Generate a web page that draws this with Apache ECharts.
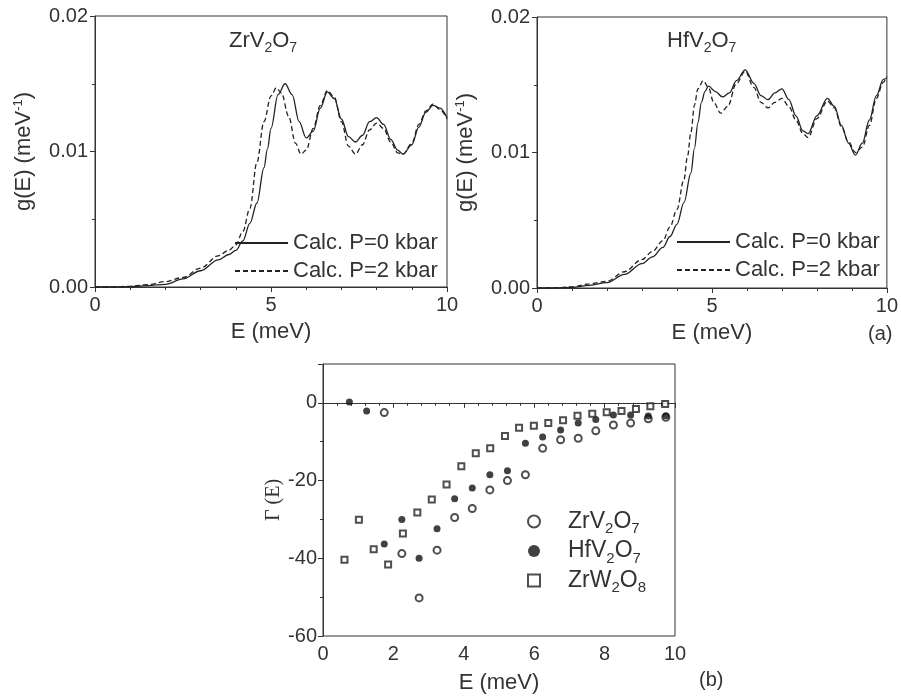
<!DOCTYPE html>
<html>
<head>
<meta charset="utf-8">
<script src="https://cdn.jsdelivr.net/npm/echarts@6/dist/echarts.min.js"></script>
<style>
  html, body { margin: 0; padding: 0; background: #fff; }
  #main { width: 901px; height: 698px; }
</style>
</head>
<body>
<div id="main"></div>
<script>
// ---- data ----
// (a) left: ZrV2O7 phonon DOS
const zrE0 = [0, 0.5, 1.0, 1.5, 2.0, 2.5, 3.0, 3.5, 3.8, 4.0, 4.2, 4.4, 4.6, 4.8, 4.9, 5.0, 5.2, 5.4, 5.6, 5.8, 6.0, 6.2, 6.4, 6.6, 6.8, 7.0, 7.2, 7.4, 7.6, 7.8, 8.0, 8.2, 8.4, 8.6, 8.75, 9.0, 9.2, 9.4, 9.6, 9.8, 10];
const zrG0 = [0, 0, 0.00003, 0.0001, 0.0002, 0.0006, 0.0012, 0.002, 0.0024, 0.0027, 0.0034, 0.0047, 0.0062, 0.0088, 0.0102, 0.0117, 0.0142, 0.015, 0.0142, 0.0122, 0.011, 0.0115, 0.0132, 0.0144, 0.0139, 0.0124, 0.0111, 0.0107, 0.0112, 0.0122, 0.0125, 0.012, 0.0109, 0.0101, 0.0098, 0.0105, 0.0118, 0.0129, 0.0134, 0.0132, 0.0125];
const zrE2 = [0, 0.5, 1.0, 1.5, 2.0, 2.5, 3.0, 3.5, 3.8, 4.0, 4.2, 4.4, 4.6, 4.8, 5.0, 5.15, 5.3, 5.5, 5.7, 5.85, 6.0, 6.2, 6.4, 6.6, 6.8, 7.0, 7.2, 7.4, 7.6, 7.8, 8.0, 8.2, 8.4, 8.6, 8.75, 9.0, 9.2, 9.4, 9.6, 9.8, 10];
const zrG2 = [0, 0, 0.00005, 0.00018, 0.0004, 0.0007, 0.0014, 0.0023, 0.0027, 0.0031, 0.0041, 0.0058, 0.0092, 0.0122, 0.0141, 0.0147, 0.0143, 0.0126, 0.0106, 0.0098, 0.0101, 0.0117, 0.0134, 0.0145, 0.014, 0.0122, 0.0104, 0.0098, 0.0105, 0.0116, 0.0121, 0.0117, 0.0107, 0.0099, 0.0098, 0.0106, 0.012, 0.013, 0.0135, 0.0131, 0.0124];

// (a) right: HfV2O7 phonon DOS
const hfE0 = [0, 0.5, 1.0, 1.5, 2.0, 2.5, 3.0, 3.3, 3.6, 3.8, 4.0, 4.2, 4.4, 4.5, 4.6, 4.7, 4.8, 4.9, 5.1, 5.3, 5.5, 5.7, 5.95, 6.2, 6.4, 6.6, 6.8, 7.0, 7.2, 7.4, 7.6, 7.75, 8.0, 8.3, 8.5, 8.7, 8.9, 9.1, 9.3, 9.5, 9.7, 9.9, 10];
const hfG0 = [0, 0, 0.00005, 0.0002, 0.0004, 0.001, 0.0018, 0.0023, 0.003, 0.0038, 0.0047, 0.0063, 0.0085, 0.0103, 0.0122, 0.0137, 0.0145, 0.0149, 0.0145, 0.0141, 0.0144, 0.0153, 0.0161, 0.0151, 0.0142, 0.0139, 0.0144, 0.0147, 0.0139, 0.0127, 0.0116, 0.0114, 0.0127, 0.014, 0.0134, 0.012, 0.0107, 0.0098, 0.0107, 0.0124, 0.0142, 0.0154, 0.0155];
const hfE2 = [0, 0.5, 1.0, 1.5, 2.0, 2.5, 3.0, 3.3, 3.6, 3.8, 4.0, 4.2, 4.3, 4.4, 4.5, 4.6, 4.75, 4.9, 5.05, 5.25, 5.45, 5.7, 5.95, 6.2, 6.4, 6.6, 6.8, 7.0, 7.2, 7.4, 7.6, 7.75, 8.0, 8.3, 8.5, 8.7, 8.9, 9.1, 9.3, 9.5, 9.7, 9.9, 10];
const hfG2 = [0, 0, 0.00008, 0.0003, 0.0005, 0.0012, 0.0021, 0.0027, 0.0035, 0.0045, 0.0058, 0.008, 0.0097, 0.0115, 0.0135, 0.0147, 0.0153, 0.0148, 0.0137, 0.0129, 0.0134, 0.0151, 0.016, 0.0148, 0.0137, 0.0133, 0.0137, 0.014, 0.0134, 0.0124, 0.0114, 0.0111, 0.0125, 0.0138, 0.0133, 0.0119, 0.0108, 0.01, 0.0104, 0.012, 0.014, 0.0152, 0.0156];

// (b) Gamma(E)
const gZrVE = [1.74, 2.24, 2.73, 3.24, 3.74, 4.24, 4.74, 5.24, 5.75, 6.24, 6.75, 7.25, 7.75, 8.25, 8.74, 9.24, 9.74];
const gZrVG = [-2.5, -38.8, -50.2, -37.9, -29.5, -27.2, -22.4, -20, -18.5, -11.7, -9.5, -9.1, -7.2, -5.7, -5.2, -4.1, -3.7];
const gHfVE = [0.75, 1.24, 1.74, 2.24, 2.73, 3.24, 3.74, 4.24, 4.74, 5.24, 5.75, 6.24, 6.75, 7.25, 7.75, 8.25, 8.74, 9.24, 9.74];
const gHfVG = [0.2, -2.1, -36.3, -30, -40, -32.4, -24.7, -21.9, -18.5, -17.5, -10.4, -8.8, -7.0, -5.2, -4.3, -3.1, -3.1, -3.4, -3.3];
const gZrWE = [0.61, 1.02, 1.44, 1.85, 2.27, 2.68, 3.09, 3.51, 3.93, 4.34, 4.75, 5.17, 5.57, 5.99, 6.40, 6.82, 7.23, 7.65, 8.06, 8.48, 8.89, 9.30, 9.72];
const gZrWG = [-40.4, -30.1, -37.7, -41.6, -33.6, -28.2, -24.9, -21.0, -16.3, -13.0, -11.7, -8.5, -6.4, -5.9, -5.2, -4.5, -3.3, -2.8, -2.4, -2.1, -1.6, -0.9, -0.3];

const legendNames = ['ZrV2O7', 'HfV2O7', 'ZrW2O8'];
const legendRich = {
  'ZrV2O7': 'ZrV{s|2}O{s|7}',
  'HfV2O7': 'HfV{s|2}O{s|7}',
  'ZrW2O8': 'ZrW{s|2}O{s|8}'
};

const FONT = '"Liberation Sans", Arial, sans-serif';
const INK = '#333';

function zip(xs, ys) {
  return xs.map((x, i) => [x, ys[i]]);
}

var myChart = echarts.init(document.getElementById('main'));

const subRich = {
  s: { fontSize: 14, fontFamily: FONT, color: INK, padding: [14, 0, 0, 0] },
  p: { fontSize: 13, fontFamily: FONT, color: INK, padding: [0, 0, 10, 0] }
};

function dosX(idx) {
  return {
    gridIndex: idx, type: 'value', min: 0, max: 10, interval: 5,
    name: 'E (meV)', nameLocation: 'middle', nameGap: 34,
    nameTextStyle: { fontSize: 22, color: INK, fontFamily: FONT },
    axisLine: { lineStyle: { color: INK } },
    axisTick: { length: 5, lineStyle: { color: INK } },
    minorTick: { show: true, splitNumber: 5, length: 3, lineStyle: { color: INK } },
    axisLabel: { fontSize: 20, color: INK, fontFamily: FONT, margin: 8 },
    splitLine: { show: false }
  };
}
function dosY(idx) {
  return {
    gridIndex: idx, type: 'value', min: 0, max: 0.02, interval: 0.01,
    name: 'g(E) (meV{p|-1})', nameLocation: 'middle', nameGap: 60,
    nameTextStyle: { fontSize: 22, color: INK, fontFamily: FONT, rich: subRich },
    axisLine: { lineStyle: { color: INK } },
    axisTick: { length: 5, lineStyle: { color: INK } },
    minorTick: { show: true, splitNumber: 2, length: 3, lineStyle: { color: INK } },
    axisLabel: { fontSize: 20, color: INK, fontFamily: FONT, margin: 7,
      formatter: v => v.toFixed(2) },
    splitLine: { show: false }
  };
}
function dosLine(name, data, idx, dashed) {
  return {
    name: name, type: 'line', xAxisIndex: idx, yAxisIndex: idx,
    data: data, symbol: 'none', smooth: 0.35, smoothMonotone: 'x',
    lineStyle: { color: '#222', width: 1.3, type: dashed ? [5, 3] : 'solid' },
    itemStyle: { color: '#222' },
    z: dashed ? 2 : 3
  };
}
function dosLegend(left, top) {
  return {
    data: ['Calc. P=0 kbar', 'Calc. P=2 kbar'], orient: 'vertical', left: left, top: top,
    itemWidth: 53, itemHeight: 14, itemGap: 6, selectedMode: false,
    itemStyle: { opacity: 0 },
    textStyle: { fontSize: 22, color: INK, fontFamily: FONT }
  };
}

var option = {
  animation: false,
  backgroundColor: '#fff',
  textStyle: { fontFamily: FONT },
  title: [
    { text: 'ZrV{s|2}O{s|7}', left: 224, top: 22,
      textStyle: { fontSize: 22, fontWeight: 'normal', color: INK, fontFamily: FONT, rich: subRich } },
    { text: 'HfV{s|2}O{s|7}', left: 662, top: 22,
      textStyle: { fontSize: 22, fontWeight: 'normal', color: INK, fontFamily: FONT, rich: subRich } }
  ],
  grid: [
    { left: 95, top: 16, width: 352, height: 271, show: true, borderColor: INK, borderWidth: 1 },
    { left: 537, top: 17, width: 353, height: 271, show: true, borderColor: INK, borderWidth: 1 },
    { left: 323, top: 364, width: 352, height: 272, show: true, borderColor: INK, borderWidth: 1 }
  ],
  legend: [
    dosLegend(229, 227),
    dosLegend(671, 226),
    { data: legendNames, orient: 'vertical', left: 522, top: 505,
      itemWidth: 12, itemHeight: 12, itemGap: 3, selectedMode: false,
      itemStyle: { borderWidth: 2 },
      formatter: n => legendRich[n],
      textStyle: { fontSize: 23, color: INK, fontFamily: FONT, padding: [0, 0, 0, 23],
        rich: { s: { fontSize: 15, fontFamily: FONT, color: INK, padding: [15, 0, 0, 0] } } } }
  ],
  xAxis: [
    dosX(0), dosX(1),
    {
      gridIndex: 2, type: 'value', min: 0, max: 10, interval: 2,
      name: 'E (meV)', nameLocation: 'middle', nameGap: 36,
      nameTextStyle: { fontSize: 22, color: INK, fontFamily: FONT },
      axisLine: { lineStyle: { color: INK } },
      axisTick: { length: 5, lineStyle: { color: INK } },
      minorTick: { show: true, splitNumber: 5, length: 3, lineStyle: { color: INK } },
      axisLabel: { fontSize: 20, color: INK, fontFamily: FONT, margin: 8 },
      splitLine: { show: false }
    }
  ],
  yAxis: [
    dosY(0), dosY(1),
    {
      gridIndex: 2, type: 'value', min: -60, max: 10, interval: 20,
      name: 'Γ (E)', nameLocation: 'middle', nameGap: 26,
      nameTextStyle: { fontSize: 20, color: INK, fontFamily: '"Liberation Serif", "Times New Roman", serif' },
      axisLine: { lineStyle: { color: INK } },
      axisTick: { length: 5, lineStyle: { color: INK } },
      minorTick: { show: true, splitNumber: 2, length: 3, lineStyle: { color: INK } },
      axisLabel: { fontSize: 20, color: INK, fontFamily: FONT, margin: 6, showMaxLabel: false },
      splitLine: { show: false }
    }
  ],
  graphic: [
    { type: 'text', left: 868, top: 324, style: { text: '(a)', fontSize: 20, fill: INK, fontFamily: FONT } },
    { type: 'text', left: 699, top: 670, style: { text: '(b)', fontSize: 20, fill: INK, fontFamily: FONT } }
  ],
  series: [
    dosLine('Calc. P=0 kbar', zip(zrE0, zrG0), 0, false),
    dosLine('Calc. P=2 kbar', zip(zrE2, zrG2), 0, true),
    dosLine('Calc. P=0 kbar', zip(hfE0, hfG0), 1, false),
    dosLine('Calc. P=2 kbar', zip(hfE2, hfG2), 1, true),
    {
      name: 'ZrV2O7', type: 'scatter', xAxisIndex: 2, yAxisIndex: 2,
      data: zip(gZrVE, gZrVG), symbol: 'emptyCircle', symbolSize: 7,
      itemStyle: { color: '#222', borderColor: '#222', borderWidth: 1 }
    },
    {
      name: 'HfV2O7', type: 'scatter', xAxisIndex: 2, yAxisIndex: 2,
      data: zip(gHfVE, gHfVG), symbol: 'circle', symbolSize: 7,
      itemStyle: { color: '#111' }
    },
    {
      name: 'ZrW2O8', type: 'scatter', xAxisIndex: 2, yAxisIndex: 2,
      data: zip(gZrWE, gZrWG), symbol: 'emptyRect', symbolSize: 6,
      itemStyle: { color: '#222', borderColor: '#222', borderWidth: 1 }
    }
  ]
};

option && myChart.setOption(option);
</script>
</body>
</html>
